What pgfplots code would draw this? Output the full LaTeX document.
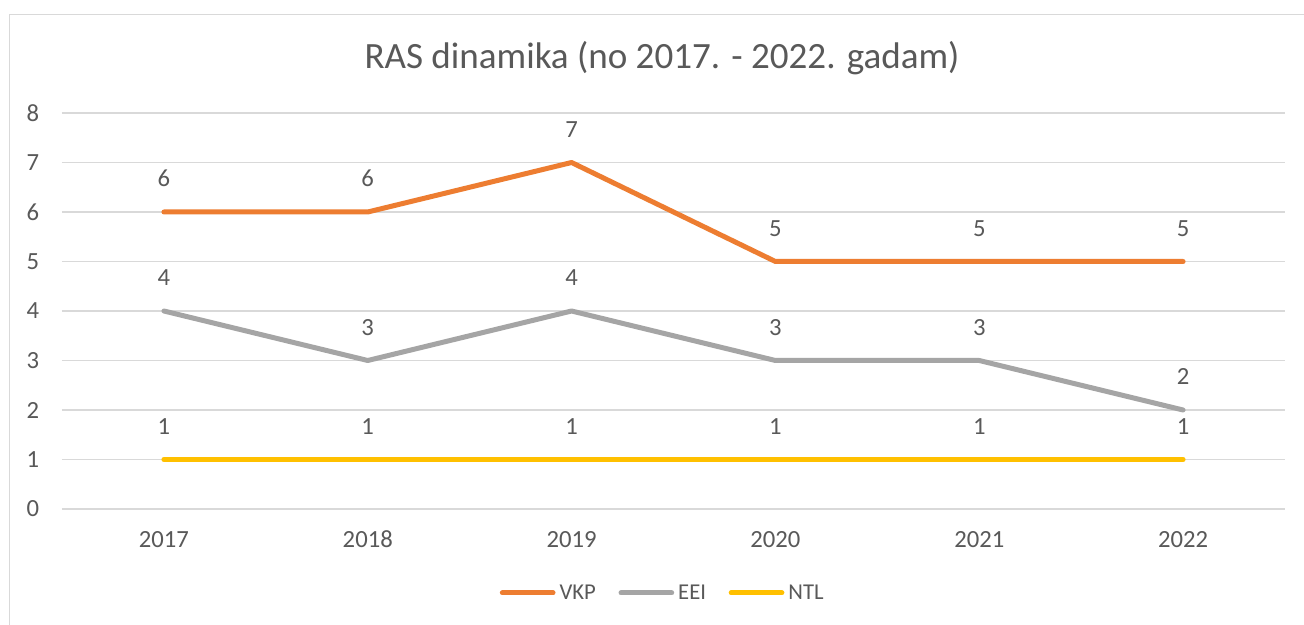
\documentclass[border=0pt]{standalone}
\usepackage{pgfplots}
\pgfplotsset{compat=1.18}
\usepackage{fontspec}
\setmainfont{Carlito}
\definecolor{vkp}{HTML}{ED7D31}
\definecolor{eei}{HTML}{A5A5A5}
\definecolor{ntl}{HTML}{FFC000}
\definecolor{txt}{HTML}{595959}
\definecolor{gridc}{HTML}{D9D9D9}
\begin{document}
\begin{tikzpicture}
\path[use as bounding box] (-46.5pt,-87pt) rectangle (931.5pt,381.75pt);
\fill[white] (-46.5pt,-87pt) rectangle (931.5pt,381.75pt);
\draw[gridc, line width=1.1pt] (-39.4pt,-87pt) -- (-39.4pt,370.9pt) -- (931.5pt,370.9pt);
\node[txt, font=\fontsize{27.8}{32}\selectfont] at (450pt,338pt) {RAS dinamika (no 2017. - 2022. gadam)};
\begin{axis}[
  at={(0pt,0pt)}, anchor=south west,
  scale only axis, width=917.25pt, height=297pt,
  xmin=-0.5, xmax=5.5, ymin=0, ymax=8,
  xtick={0,...,5}, xticklabels={2017,2018,2019,2020,2021,2022},
  ytick={0,...,8},
  /pgf/number format/assume math mode=true,
  axis line style={draw=none},
  major tick length=0pt,
  xmajorgrids=false, ymajorgrids=true, major grid style={draw=gridc, line width=1.1pt},
  font=\fontsize{18.5}{22}\selectfont,
  tick label style={txt},
  yticklabel style={anchor=east, inner sep=0pt, xshift=-17pt},
  xticklabel style={anchor=north, inner sep=0pt, text height=12pt, text depth=0pt, yshift=-17pt},
  nodes near coords,
  every node near coord/.append style={txt, anchor=south, inner sep=0pt, yshift=17pt, font=\fontsize{18.5}{22}\selectfont},
  every axis plot/.append style={line width=3.75pt, line cap=round, line join=round, mark=none},
  legend columns=3,
  legend style={at={(axis description cs:0.492,-0.212)}, anchor=center, draw=none, fill=none,
    font=\fontsize{17}{20}\selectfont, text=txt,
    nodes={inner sep=3pt},
    /tikz/every even column/.append style={column sep=14pt}},
  legend image code/.code={\draw[#1] (0pt,0pt) -- (38pt,0pt);},
]
\addplot[vkp] coordinates {(0,6) (1,6) (2,7) (3,5) (4,5) (5,5)};
\addplot[eei] coordinates {(0,4) (1,3) (2,4) (3,3) (4,3) (5,2)};
\addplot[ntl] coordinates {(0,1) (1,1) (2,1) (3,1) (4,1) (5,1)};
\legend{VKP,EEI,NTL}
\end{axis}
\end{tikzpicture}
\end{document}
